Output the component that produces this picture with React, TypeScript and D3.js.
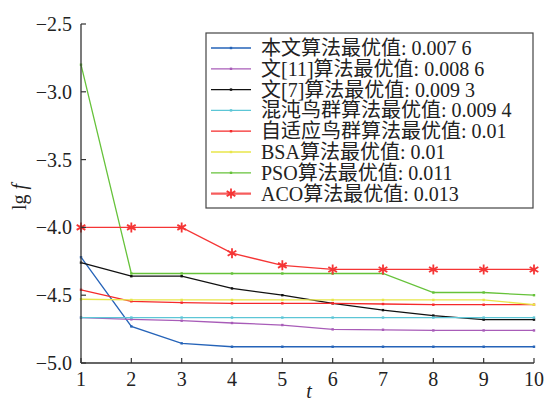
import React from "react"
import * as d3 from "d3"

// iteration numbers
const iters = [1, 2, 3, 4, 5, 6, 7, 8, 9, 10]

// lg f for each algorithm
const ours = [-4.22, -4.73, -4.855, -4.88, -4.88, -4.88, -4.88, -4.88, -4.88, -4.88]
const ref11 = [-4.665, -4.678, -4.688, -4.705, -4.72, -4.752, -4.755, -4.76, -4.76, -4.76]
const ref7 = [-4.26, -4.36, -4.36, -4.45, -4.5, -4.56, -4.61, -4.65, -4.68, -4.68]
const chaos = [-4.665, -4.665, -4.665, -4.665, -4.665, -4.665, -4.665, -4.665, -4.665, -4.665]
const adaptive = [-4.46, -4.545, -4.555, -4.56, -4.56, -4.56, -4.565, -4.57, -4.57, -4.57]
const bsa = [-4.53, -4.535, -4.535, -4.535, -4.535, -4.535, -4.535, -4.535, -4.535, -4.57]
const pso = [-2.8, -4.34, -4.34, -4.34, -4.34, -4.34, -4.34, -4.48, -4.48, -4.5]
const aco = [-4.0, -4.0, -4.0, -4.19, -4.28, -4.31, -4.31, -4.31, -4.31, -4.31]

const legendLabels = [
  "本文算法最优值: 0.007 6",
  "文[11]算法最优值: 0.008 6",
  "文[7]算法最优值: 0.009 3",
  "混沌鸟群算法最优值: 0.009 4",
  "自适应鸟群算法最优值: 0.01",
  "BSA算法最优值: 0.01",
  "PSO算法最优值: 0.011",
  "ACO算法最优值: 0.013",
]
const yTicks = [-2.5, -3.0, -3.5, -4.0, -4.5, -5.0]

const seriesList = [
  { values: ours, color: "#2563b8" },
  { values: ref11, color: "#a85cb8" },
  { values: ref7, color: "#111111" },
  { values: chaos, color: "#5cc6d6" },
  { values: adaptive, color: "#f52a2a" },
  { values: bsa, color: "#e8e64a" },
  { values: pso, color: "#66c23a" },
  { values: aco, color: "#f53535", star: true },
]

const font = "'Liberation Serif', 'Times New Roman', 'Noto Sans CJK SC', serif"

export default function App() {
  const left = 81, right = 534, top = 24, bottom = 363
  const x = d3.scaleLinear().domain([1, 10]).range([left, right])
  const y = d3.scaleLinear().domain([-5, -2.5]).range([bottom, top])
  const line = d3.line<number>().x((d, i) => x(iters[i])).y(d => y(d))
  const star = d3.symbol(d3.symbolAsterisk, 70)()

  return (
    <svg width={547} height={403} style={{ position: "absolute", left: 0, top: 0, background: "#fff" }} fontFamily={font}>
      {/* series */}
      {seriesList.map((s, k) => (
        <g key={k}>
          <path d={line(s.values) || ""} fill="none" stroke={s.color} strokeWidth={1.3} />
          {s.values.map((v, i) =>
            s.star ? (
              <path key={i} d={star || ""} transform={`translate(${x(iters[i])},${y(v)})`} stroke={s.color} strokeWidth={1.8} fill="none" />
            ) : (
              <rect key={i} x={x(iters[i]) - 1.2} y={y(v) - 1.2} width={2.4} height={2.4} fill={s.color} />
            )
          )}
        </g>
      ))}

      {/* axes */}
      <line x1={left} x2={left} y1={top} y2={bottom} stroke="#333" strokeWidth={1.3} />
      <line x1={left} x2={right} y1={bottom} y2={bottom} stroke="#333" strokeWidth={1.3} />
      {yTicks.map(t => (
        <g key={t}>
          <line x1={left} x2={left + 5} y1={y(t)} y2={y(t)} stroke="#333" strokeWidth={1.2} />
          <text x={72} y={y(t) + 7} textAnchor="end" fontSize={20} fill="#222">
            {t.toFixed(1).replace("-", "\u2212")}
          </text>
        </g>
      ))}
      {iters.map(t => (
        <g key={t}>
          <line x1={x(t)} x2={x(t)} y1={bottom} y2={bottom - 5} stroke="#333" strokeWidth={1.2} />
          <text x={x(t)} y={386} textAnchor="middle" fontSize={20} fill="#222">
            {t}
          </text>
        </g>
      ))}
      <text x={309} y={398} textAnchor="middle" fontSize={20} fontStyle="italic" fill="#222">t</text>
      <text transform="translate(26,197) rotate(-90)" textAnchor="middle" fontSize={20} fill="#222">
        lg <tspan fontStyle="italic">f</tspan>
      </text>

      {/* legend */}
      <rect x={206} y={33} width={327} height={175} fill="#fff" stroke="#444" strokeWidth={1.2} />
      {legendLabels.map((lab, i) => {
        const ly = 48 + i * 20.8
        const s = seriesList[i]
        return (
          <g key={i}>
            <line x1={211} x2={251} y1={ly} y2={ly} stroke={s.color} strokeWidth={s.star ? 2.2 : 1.3} opacity={s.star ? 0.8 : 1} />
            {s.star ? (
              <path d={star || ""} transform={`translate(231,${ly})`} stroke={s.color} strokeWidth={1.8} fill="none" />
            ) : (
              <rect x={229.8} y={ly - 1.2} width={2.4} height={2.4} fill={s.color} />
            )}
            <text x={261} y={ly + 7} fontSize={20} fill="#222">{lab}</text>
          </g>
        )
      })}
    </svg>
  )
}
